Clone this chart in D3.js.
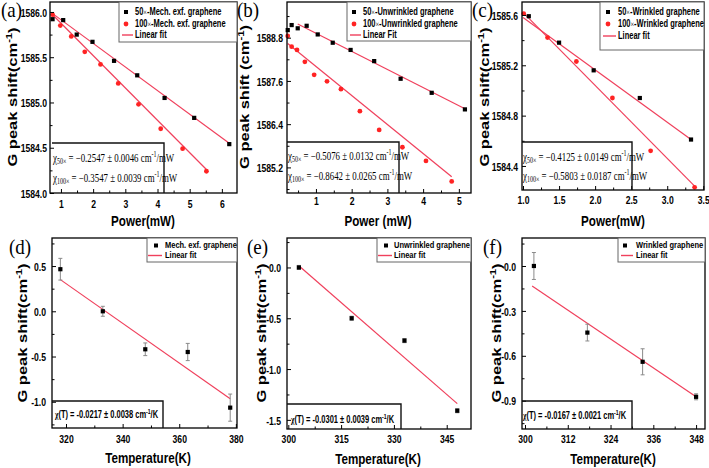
<!DOCTYPE html>
<html><head><meta charset="utf-8">
<script src="https://cdn.jsdelivr.net/npm/d3@7"></script>
<style>body{margin:0;background:#fff}svg{display:block}</style>
</head><body>
<svg id="c" width="709" height="468"></svg>
<script>
// ---------- DATA ----------
// (a) Mechanically exfoliated graphene, power dependence
const aPower50  = [0.74,1.07,1.49,1.98,2.65,3.37,4.22,5.14,6.23];
const aShift50  = [1585.92,1585.91,1585.75,1585.67,1585.46,1585.30,1585.05,1584.83,1584.54];
const aPower100 = [0.74,0.98,1.32,1.74,2.23,2.78,3.41,4.10,4.78,5.52];
const aShift100 = [1585.97,1585.85,1585.73,1585.56,1585.42,1585.21,1584.98,1584.71,1584.49,1584.24];
const aFit50  = [[0.71,1585.99],[6.23,1584.55]];
const aFit100 = [[0.71,1585.98],[5.52,1584.26]];
// (b) Unwrinkled graphene
const bPower50  = [0.21,0.32,0.49,0.74,1.05,1.47,1.97,2.63,3.37,4.24,5.17];
const bShift50  = [1589.01,1589.15,1589.06,1589.13,1588.89,1588.66,1588.46,1588.15,1587.66,1587.27,1586.81];
const bPower100 = [0.21,0.32,0.47,0.69,0.95,1.31,1.70,2.23,2.77,3.42,4.08,4.80];
const bShift100 = [1588.85,1588.55,1588.46,1588.13,1587.77,1587.59,1587.37,1586.76,1586.24,1585.76,1585.38,1584.81];
const bFit50  = [[0.49,1589.18],[5.17,1586.83]];
const bFit100 = [[0.21,1588.64],[4.80,1584.94]];
// (c) Wrinkled graphene
const cPower50  = [1.08,1.50,1.98,2.62,3.33];
const cShift50  = [1585.59,1585.38,1585.16,1584.94,1584.61];
const cPower100 = [1.01,1.34,1.74,2.24,2.77,3.38];
const cShift100 = [1585.61,1585.42,1585.23,1584.94,1584.52,1584.23];
const cFit50  = [[1.00,1585.58],[3.33,1584.61]];
const cFit100 = [[1.00,1585.62],[3.38,1584.24]];
// (d) Mech. exf. graphene, temperature dependence
const dTemp  = [318,333,348,363,378];
const dShift = [0.465,0.0,-0.42,-0.45,-1.065];
const dErr   = [0.12,0.055,0.07,0.095,0.15];
const dFit   = [[318,0.35],[378,-0.966]];
// (e) Unwrinkled graphene
const eTemp  = [303,318,333,348];
const eShift = [0.0,-0.5,-0.72,-1.41];
const eErr   = [0.02,0.02,0.02,0.02];
const eFit   = [[303,0.017],[348,-1.34]];
// (f) Wrinkled graphene
const fTemp  = [302.5,317.5,333,348];
const fShift = [0.0,-0.445,-0.64,-0.874];
const fErr   = [0.09,0.056,0.087,0.02];
const fFit   = [[302,-0.134],[348,-0.874]];

// tick values
const aXTicks = [1,2,3,4,5,6],            aXMinor = [1.5,2.5,3.5,4.5,5.5];
const aYTicks = [1584.0,1584.5,1585.0,1585.5,1586.0], aYMinor = [1584.25,1584.75,1585.25,1585.75];
const bXTicks = [1,2,3,4,5],              bXMinor = [0.5,1.5,2.5,3.5,4.5];
const bYTicks = [1585.2,1586.4,1587.6,1588.8], bYMinor = [1584.6,1585.8,1587.0,1588.2,1589.4];
const cXTicks = [1.0,1.5,2.0,2.5,3.0,3.5], cXMinor = [1.25,1.75,2.25,2.75,3.25];
const cYTicks = [1584.4,1584.8,1585.2,1585.6], cYMinor = [1584.6,1585.0,1585.4];
const dXTicks = [320,340,360,380],        dXMinor = [330,350,370];
const dYTicks = [-1.0,-0.5,0.0,0.5],      dYMinor = [-1.25,-0.75,-0.25,0.25,0.75];
const eXTicks = [300,315,330,345],        eXMinor = [307.5,322.5,337.5];
const eYTicks = [-1.5,-1.0,-0.5,0.0],     eYMinor = [-1.25,-0.75,-0.25,0.25];
const fXTicks = [300,312,324,336,348],    fXMinor = [306,318,330,342];
const fYTicks = [-0.9,-0.6,-0.3,0.0],     fYMinor = [-1.05,-0.75,-0.45,-0.15,0.15];

// texts
const labels = ["(a)","(b)","(c)","(d)","(e)","(f)"];
const aLegend = ["Mech. exf. graphene","Linear fit"];
const bLegend = ["Unwrinkled graphene","Linear Fit"];
const cLegend = ["Wrinkled graphene","Linear fit"];
const dLegend = ["Mech. exf. graphene","Linear fit"];
const eLegend = ["Unwrinkled graphene","Linear fit"];
const fLegend = ["Wrinkled graphene","Linear fit"];
const aStats = ["\u22120.2547 \u00b1 0.0046","\u22120.3547 \u00b1 0.0039"];
const bStats = ["\u22120.5076 \u00b1 0.0132","\u22120.8642 \u00b1 0.0265"];
const cStats = ["\u22120.4125 \u00b1 0.0149","\u22120.5803 \u00b1 0.0187"];
const dStats = "-0.0217 \u00b1 0.0038";
const eStats = "-0.0301 \u00b1 0.0039";
const fStats = "-0.0167 \u00b1 0.0021";

// ---------- DRAWING ----------
const svg = d3.select("#c");
const SX = 0.75;
const SANS = "'Liberation Sans', Arial, sans-serif";
const SERIF = "'Liberation Serif', 'Times New Roman', serif";
const RED_LINE = "#f0405c";
const RED_PT = "#ff2323";
const TICK = 11.5;

function txt(g, x, y, parts, o) {
  const size = o.size;
  let tr = `translate(${x},${y}) scale(${o.sx ?? SX},1)`;
  if (o.rot) tr += " rotate(-90)";
  const t = g.append("text").attr("transform", tr)
    .attr("font-family", o.family || SANS)
    .attr("font-weight", o.weight || "bold")
    .attr("font-size", size)
    .attr("text-anchor", o.anchor || "start")
    .attr("fill", "#000");
  let cur = 0;
  parts.forEach(p => {
    const q = typeof p === "string" ? {t: p} : p;
    const target = q.m === 1 ? -0.38 * size : q.m === -1 ? 0.25 * size : 0;
    const ts = t.append("tspan").text(q.t).attr("dy", target - cur);
    if (q.m) ts.attr("font-size", size * 0.68);
    if (q.small) ts.attr("font-size", size * q.small);
    if (q.fam) ts.attr("font-family", q.fam).attr("font-weight", q.w || "normal");
    cur = target;
  });
  return t;
}

function panel(c) {
  const g = svg.append("g");
  const x = d3.scaleLinear().domain(c.xd).range([c.L, c.R]);
  const y = d3.scaleLinear().domain(c.yd).range([c.B, c.T]);
  const line = d3.line().x(d => x(d[0])).y(d => y(d[1]));

  // fit lines
  c.fits.forEach(f => g.append("path").attr("d", line(f)).attr("fill", "none")
    .attr("stroke", RED_LINE).attr("stroke-width", 1.2));

  // error bars
  if (c.err) {
    c.series[0].xs.forEach((xv, i) => {
      const e = c.err[i], yv = c.series[0].ys[i];
      const eg = g.append("g").attr("stroke", "#8a8a8a").attr("stroke-width", 1);
      eg.append("line").attr("x1", x(xv)).attr("x2", x(xv)).attr("y1", y(yv - e)).attr("y2", y(yv + e));
      [yv - e, yv + e].forEach(v => eg.append("line").attr("x1", x(xv) - 2).attr("x2", x(xv) + 2).attr("y1", y(v)).attr("y2", y(v)));
    });
  }

  // points
  c.series.forEach(s => {
    s.xs.forEach((xv, i) => {
      const px = x(xv), py = y(s.ys[i]);
      if (s.shape === "sq") g.append("rect").attr("x", px - 2.1).attr("y", py - 2.1).attr("width", 4.2).attr("height", 4.2).attr("fill", "#000");
      else g.append("circle").attr("cx", px).attr("cy", py).attr("r", 2.4).attr("fill", RED_PT);
    });
  });

  // axes (inward ticks)
  const bx = g.append("g").attr("transform", `translate(0,${c.B})`)
    .call(d3.axisBottom(x).tickValues(c.xt).tickSizeInner(-4).tickSizeOuter(0).tickFormat(c.xf));
  g.append("g").attr("transform", `translate(0,${c.B})`)
    .call(d3.axisBottom(x).tickValues(c.xm).tickSizeInner(-2.5).tickSizeOuter(0).tickFormat(() => ""))
    .call(a => a.select(".domain").remove());
  bx.select(".domain").remove();
  bx.selectAll("text").attr("font-family", SANS).attr("font-weight", "bold").attr("font-size", TICK)
    .attr("y", c.xly - c.B).attr("dy", "0.36em").attr("transform", `scale(${SX},1)`).attr("fill", "#000");
  const ly = g.append("g").attr("transform", `translate(${c.L},0)`)
    .call(d3.axisLeft(y).tickValues(c.yt).tickSizeInner(-4).tickSizeOuter(0).tickFormat(c.yf));
  g.append("g").attr("transform", `translate(${c.L},0)`)
    .call(d3.axisLeft(y).tickValues(c.ym).tickSizeInner(-2.5).tickSizeOuter(0).tickFormat(() => ""))
    .call(a => a.select(".domain").remove());
  ly.select(".domain").remove();
  ly.selectAll("text").attr("font-family", SANS).attr("font-weight", "bold").attr("font-size", TICK)
    .attr("x", -c.gap / SX).attr("dy", "0.36em").attr("transform", `scale(${SX},1)`).attr("fill", "#000");
  g.selectAll(".tick line").attr("stroke", "#000");

  // frame
  g.append("rect").attr("x", c.L).attr("y", c.T).attr("width", c.R - c.L).attr("height", c.B - c.T)
    .attr("fill", "none").attr("stroke", "#000").attr("stroke-width", 1.3);

  // stats box
  const sb = c.sbox;
  g.append("path").attr("d", `M${sb[0]},${sb[1]}H${sb[2]}V${sb[3]}`).attr("fill", "none")
    .attr("stroke", "#111").attr("stroke-width", 1.4);
  c.stats.forEach(s => txt(g, s.x, s.y, s.parts, s.o));

  // legend
  const lb = c.lbox;
  g.append("rect").attr("x", lb[0]).attr("y", lb[1]).attr("width", lb[2] - lb[0]).attr("height", lb[3] - lb[1])
    .attr("fill", "#fff").attr("stroke", "#666").attr("stroke-width", 1);
  c.legend.forEach((e, i) => {
    const ry = c.rows[i];
    if (e.shape === "sq") g.append("rect").attr("x", c.mx - 2).attr("y", ry - 2).attr("width", 4).attr("height", 4).attr("fill", "#000");
    else if (e.shape === "ci") g.append("circle").attr("cx", c.mx).attr("cy", ry).attr("r", 2.4).attr("fill", RED_PT);
    else g.append("line").attr("x1", c.lx[0]).attr("x2", c.lx[1]).attr("y1", ry).attr("y2", ry)
      .attr("stroke", RED_LINE).attr("stroke-width", 1.4);
    txt(g, c.tx, ry + c.lsize * 0.34, e.parts, {size: c.lsize, sx: c.lsx});
  });

  // panel label
  txt(g, c.lab[0], c.lab[1], [c.label], {size: 20, family: SERIF, weight: "normal", sx: 0.95});
  // axis titles
  txt(g, c.xlab[0], c.xlab[1], c.xtitle, {size: 15.5, anchor: "middle"}).attr("dominant-baseline", "central");
  txt(g, c.ylab[0], c.ylab[1], c.ytitle, {size: 16.5, anchor: "middle", rot: true}).attr("dominant-baseline", "central");
}

const f1 = v => v.toFixed(1), fd = v => String(v);
const times = (s) => ({t: s, small: 0.85, fam: SERIF});
const ytitleA = ["G peak shift(cm", {t: "-1", m: 1}, ")"];
const ytitleB = ["G peak shift (cm", {t: "-1", m: 1}, ")"];
function powerStats(box, st, unit) {
  const o = {size: 11.8, family: SERIF, weight: "normal"};
  return [0, 1].map(i => ({x: box.x, y: box.ys[i], o,
    parts: ["\u03c7", {t: i ? "100\u00d7" : "50\u00d7", m: -1}, ` = ${st[i]} cm`, {t: "-1", m: 1}, "/" + unit]}));
}
function tempStats(x, yv, s) {
  return [{x, y: yv, o: {size: 10},
    parts: [{t: "\u03c7", fam: SERIF, w: "bold"}, `(T) = ${s} cm`, {t: "-1", m: 1}, "/K"]}];
}
function pwrLegend(name, lt) {
  return [
    {shape: "sq", parts: ["50", times("\u00d7"), "-" + name]},
    {shape: "ci", parts: ["100", times("\u00d7"), "-" + name]},
    {shape: "ln", parts: [lt]}
  ];
}

const cfgs = [
  {label: labels[0], L: 50, R: 237, T: 2, B: 193, xd: [0.66, 6.47], yd: [1584.0, 1586.11],
   xt: aXTicks, xm: aXMinor, yt: aYTicks, ym: aYMinor, xf: fd, yf: f1, xly: 204, gap: 3,
   series: [{xs: aPower50, ys: aShift50, shape: "sq"}, {xs: aPower100, ys: aShift100, shape: "ci"}],
   fits: [aFit50, aFit100],
   sbox: [52, 143, 164, 193], stats: powerStats({x: 53, ys: [161.5, 181.5]}, aStats, "mW"),
   lbox: [119, 2, 237, 42], mx: 126, tx: 135, lx: [122, 133], rows: [12, 24, 35], lsize: 10, lsx: 0.75,
   legend: pwrLegend(aLegend[0], aLegend[1]),
   lab: [1, 17], xlab: [143, 220], xtitle: ["Power(mW)"], ylab: [13, 97], ytitle: ytitleA},
  {label: labels[1], L: 287, R: 471, T: 2, B: 193, xd: [0.19, 5.34], yd: [1584.49, 1589.79],
   xt: bXTicks, xm: bXMinor, yt: bYTicks, ym: bYMinor, xf: fd, yf: f1, xly: 201, gap: 4,
   series: [{xs: bPower50, ys: bShift50, shape: "sq"}, {xs: bPower100, ys: bShift100, shape: "ci"}],
   fits: [bFit50, bFit100],
   sbox: [287, 142, 399, 193], stats: powerStats({x: 288, ys: [159.5, 179.5]}, bStats, "mW"),
   lbox: [347, 2, 471, 41], mx: 354, tx: 363, lx: [350, 361], rows: [12, 24, 35], lsize: 10, lsx: 0.75,
   legend: pwrLegend(bLegend[0], bLegend[1]),
   lab: [237, 17], xlab: [378, 220], xtitle: ["Power (mW)"], ylab: [245, 97], ytitle: ytitleB},
  {label: labels[2], L: 522, R: 704, T: 2, B: 190, xd: [0.986, 3.51], yd: [1584.209, 1585.703],
   xt: cXTicks, xm: cXMinor, yt: cYTicks, ym: cYMinor, xf: f1, yf: f1, xly: 200, gap: 4,
   series: [{xs: cPower50, ys: cShift50, shape: "sq"}, {xs: cPower100, ys: cShift100, shape: "ci"}],
   fits: [cFit50, cFit100],
   sbox: [522, 142, 632, 190], stats: powerStats({x: 523, ys: [160.5, 179.5]}, cStats, "mW"),
   lbox: [600, 2, 704, 50], mx: 608, tx: 618, lx: [603, 616], rows: [12, 24, 36], lsize: 10, lsx: 0.75,
   legend: pwrLegend(cLegend[0], cLegend[1]),
   lab: [472, 17], xlab: [613, 220], xtitle: ["Power(mW)"], ylab: [485, 97], ytitle: ytitleA},
  {label: labels[3], L: 52, R: 237, T: 238, B: 428, xd: [315.05, 380.4], yd: [-1.29, 0.81],
   xt: dXTicks, xm: dXMinor, yt: dYTicks, ym: dYMinor, xf: fd, yf: f1, xly: 439, gap: 6,
   series: [{xs: dTemp, ys: dShift, shape: "sq"}], err: dErr, fits: [dFit],
   sbox: [52, 401, 163, 428], stats: tempStats(55, 417.5, dStats),
   lbox: [147, 238, 237, 262], mx: 156, tx: 165, lx: [148, 162], rows: [245.5, 255.5], lsize: 8.6, lsx: 0.87,
   legend: [{shape: "sq", parts: [dLegend[0]]}, {shape: "ln", parts: [dLegend[1]]}],
   lab: [9, 254], xlab: [148, 457], xtitle: ["Temperature(K)"], ylab: [23, 333], ytitle: ytitleA},
  {label: labels[4], L: 287, R: 471, T: 238, B: 429, xd: [299.63, 351.9], yd: [-1.59, 0.29],
   xt: eXTicks, xm: eXMinor, yt: eYTicks, ym: eYMinor, xf: fd, yf: f1, xly: 439, gap: 6,
   series: [{xs: eTemp, ys: eShift, shape: "sq"}], err: eErr, fits: [eFit],
   sbox: [287, 404, 401, 429], stats: tempStats(291, 422.5, eStats),
   lbox: [377, 238, 471, 262], mx: 386, tx: 394, lx: [378, 392], rows: [245.5, 255.5], lsize: 8.6, lsx: 0.87,
   legend: [{shape: "sq", parts: [eLegend[0]]}, {shape: "ln", parts: [eLegend[1]]}],
   lab: [247, 254], xlab: [378, 458], xtitle: ["Temperature(K)"], ylab: [262, 333], ytitle: ytitleA},
  {label: labels[5], L: 522, R: 705, T: 238, B: 429, xd: [299.16, 350.5], yd: [-1.089, 0.187],
   xt: fXTicks, xm: fXMinor, yt: fYTicks, ym: fYMinor, xf: fd, yf: f1, xly: 439, gap: 6,
   series: [{xs: fTemp, ys: fShift, shape: "sq"}], err: fErr, fits: [fFit],
   sbox: [522, 401, 632, 429], stats: tempStats(523, 418.5, fStats),
   lbox: [618, 238, 705, 262], mx: 625, tx: 636, lx: [621, 633], rows: [245.5, 255.5], lsize: 8.6, lsx: 0.87,
   legend: [{shape: "sq", parts: [fLegend[0]]}, {shape: "ln", parts: [fLegend[1]]}],
   lab: [483, 254], xlab: [613, 458], xtitle: ["Temperature(K)"], ylab: [497, 333], ytitle: ytitleA}
];
cfgs.forEach(panel);
</script>
</body></html>
